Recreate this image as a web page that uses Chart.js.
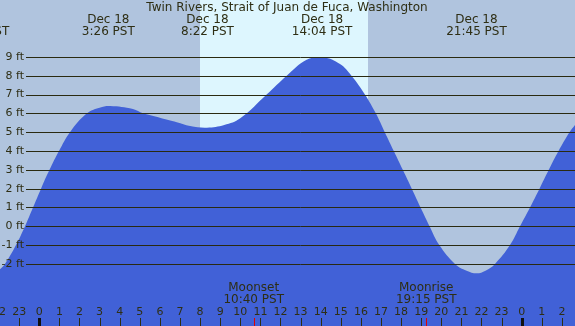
<!DOCTYPE html>
<html>
<head>
<meta charset="utf-8">
<script src="https://cdn.jsdelivr.net/npm/chart.js@4"></script>
<style>
html,body{margin:0;padding:0;background:#b0c4de;}
#c{display:block;}
</style>
</head>
<body>
<canvas id="c" width="575" height="326"></canvas>
<script>
// ---- data (hours from midnight Dec 18, PST; water level in ft) ----
const tideHours = [-1.955,-1.706,-1.159,-0.711,-0.313,0.085,0.507,0.98,1.527,2.373,3.0,3.52,4.66,5.16,6.0,6.84,7.5,8.34,9.2,10.0,11.31,12.31,13.3,14.13,14.96,15.53,16.2,16.741,17.189,17.637,18.085,18.532,18.97,19.418,19.9,20.682,21.26,21.76,22.2,22.672,23.418,23.915,24.413,24.886,25.348,25.831,26.378,26.652];
const tideFeet  = [-2.28,-2.0,-1.0,0,1,2,3,4,5,6.0,6.3,6.39,6.23,6.0,5.77,5.53,5.33,5.24,5.38,5.74,7.0,8.0,8.85,8.98,8.62,8.0,7.0,6.0,5.0,4.0,3.0,2.0,1.0,0,-1.0,-2.0,-2.36,-2.5,-2.36,-2.0,-1.0,0,1,2,3,4,5,5.38];

const yTickValues = [9,8,7,6,5,4,3,2,1,0,-1,-2];
const yTickLabels = ['9 ft','8 ft','7 ft','6 ft','5 ft','4 ft','3 ft','2 ft','1 ft','0 ft','-1 ft','-2 ft'];

const hourTicks = [-2,-1,0,1,2,3,4,5,6,7,8,9,10,11,12,13,14,15,16,17,18,19,20,21,22,23,24,25,26];
const hourLabels = ['22','23','0','1','2','3','4','5','6','7','8','9','10','11','12','13','14','15','16','17','18','19','20','21','22','23','0','1','2'];

const extremeHours = [-3.0, 3.433, 8.367, 14.067, 21.75];
const extremeDates = ['Dec 17','Dec 18','Dec 18','Dec 18','Dec 18'];
const extremeTimes = ['20:59 PST','3:26 PST','8:22 PST','14:04 PST','21:45 PST'];

const sunriseHour = 7.995;
const sunsetHour = 16.34;

const moonHours = [10.667, 19.25];
const moonNames = ['Moonset','Moonrise'];
const moonTimes = ['10:40 PST','19:15 PST'];

const titleText = 'Twin Rivers, Strait of Juan de Fuca, Washington';

// ---- styles ----
const NIGHT = '#b0c4de', DAY = '#ddf6fe', WATER = '#4161d7';
const INK = '#2e2e14', GRID = '#2a2a10';
const FONT_SMALL = '11px "DejaVu Sans", sans-serif';
const FONT_BIG = '12px "DejaVu Sans", sans-serif';

const decor = {
  id: 'decor',
  beforeDraw(chart) {
    const ctx = chart.ctx, x = chart.scales.x;
    ctx.save();
    ctx.fillStyle = NIGHT;
    ctx.fillRect(0, 0, chart.width, chart.height);
    const x0 = x.getPixelForValue(sunriseHour), x1 = x.getPixelForValue(sunsetHour);
    ctx.fillStyle = DAY;
    ctx.fillRect(Math.round(x0), 0, Math.round(x1) - Math.round(x0), chart.height);
    ctx.restore();
  },
  afterDatasetsDraw(chart) {
    const ctx = chart.ctx, x = chart.scales.x, y = chart.scales.y;
    const W = chart.width, H = chart.height;
    ctx.save();
    // grid lines
    ctx.strokeStyle = GRID;
    ctx.lineWidth = 1;
    yTickValues.forEach((v) => {
      const py = Math.round(y.getPixelForValue(v)) + 0.5;
      ctx.beginPath();
      ctx.moveTo(26, py);
      ctx.lineTo(W, py);
      ctx.stroke();
    });
    ctx.fillStyle = INK;
    ctx.textBaseline = 'middle';
    ctx.textAlign = 'right';
    ctx.font = FONT_SMALL;
    yTickValues.forEach((v, i) => {
      ctx.fillText(yTickLabels[i], 24, y.getPixelForValue(v));
    });
    ctx.textAlign = 'center';
    ctx.font = FONT_BIG;
    // title
    ctx.fillText(titleText, 287, 7.5);
    // extremes
    extremeHours.forEach((h, i) => {
      const px = x.getPixelForValue(h);
      ctx.fillText(extremeDates[i], px, 20);
      ctx.fillText(extremeTimes[i], px, 31.5);
    });
    // moon events
    moonHours.forEach((h, i) => {
      const px = x.getPixelForValue(h);
      ctx.fillText(moonNames[i], px, 287.5);
      ctx.fillText(moonTimes[i], px, 299.5);
    });
    // hour labels and ticks
    ctx.font = FONT_SMALL;
    hourTicks.forEach((h, i) => {
      const px = x.getPixelForValue(h);
      ctx.fillStyle = INK;
      ctx.fillText(hourLabels[i], px, 312);
      const mid = (hourLabels[i] === '0');
      ctx.fillStyle = mid ? '#111' : INK;
      if (mid) ctx.fillRect(Math.round(px) - 1, 318, 3, H - 318);
      else ctx.fillRect(Math.round(px), 318, 1, H - 318);
    });
    ctx.fillStyle = '#e00000';
    moonHours.forEach((h) => {
      const px = x.getPixelForValue(h);
      ctx.fillRect(Math.round(px), 318, 1, H - 318);
    });
    ctx.restore();
  }
};

new Chart(document.getElementById('c'), {
  type: 'line',
  data: {
    datasets: [{
      data: tideHours.map((h, i) => ({x: h, y: tideFeet[i]})),
      fill: 'start',
      backgroundColor: WATER,
      borderColor: WATER,
      borderWidth: 0,
      pointRadius: 0,
      tension: 0.4
    }]
  },
  options: {
    responsive: false,
    animation: false,
    layout: {padding: 0},
    plugins: {legend: {display: false}, tooltip: {enabled: false}},
    events: [],
    scales: {
      x: {type: 'linear', min: -1.955, max: 26.652, display: false},
      y: {type: 'linear', min: -5.298, max: 12.024, display: false}
    }
  },
  plugins: [decor]
});
</script>
</body>
</html>
